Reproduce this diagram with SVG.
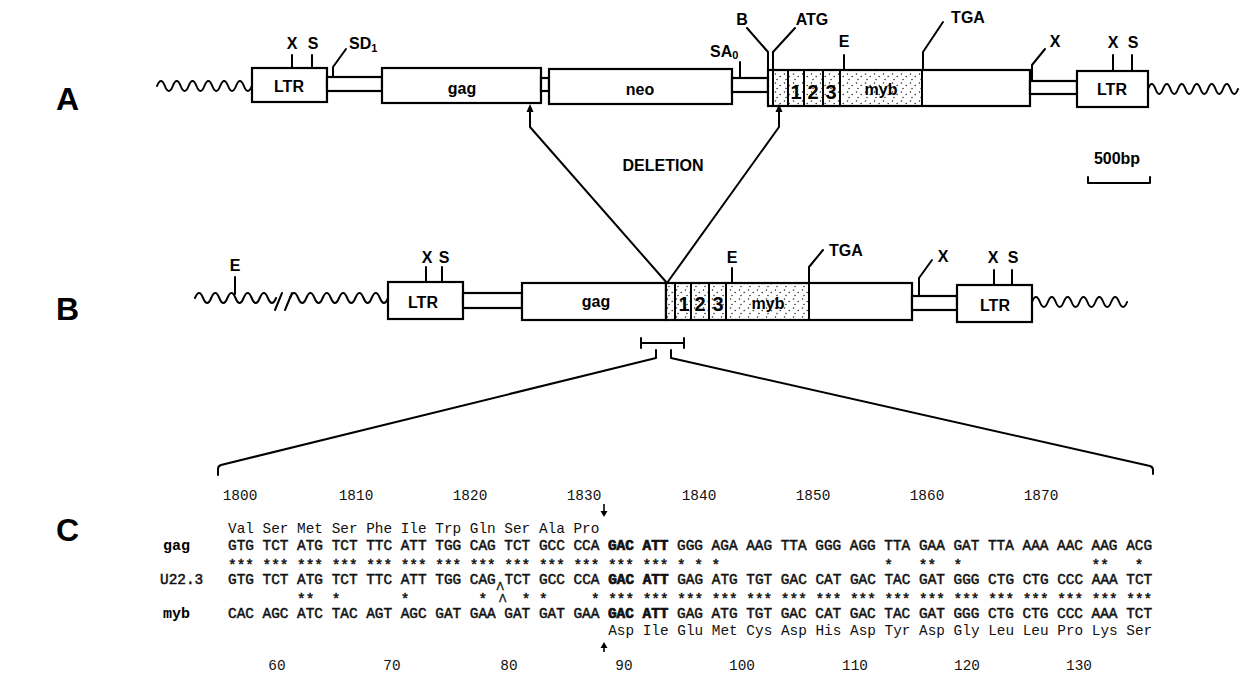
<svg xmlns="http://www.w3.org/2000/svg" width="1245" height="678" viewBox="0 0 1245 678">
<defs>
<pattern id="dots" width="9" height="9" patternUnits="userSpaceOnUse">
<circle cx="1.5" cy="2" r="0.75" fill="#222"/>
<circle cx="6.2" cy="4.4" r="0.75" fill="#222"/>
<circle cx="3" cy="7.6" r="0.75" fill="#222"/>
</pattern>
<style>
.ln{stroke:#000;stroke-width:2;fill:none;stroke-linejoin:round;stroke-linecap:round}
.bx{fill:#fff;stroke:#000;stroke-width:2.2}
.dt{fill:url(#dots);stroke:none}
.lb{font-family:"Liberation Sans",Arial,sans-serif;font-weight:bold;font-size:16px;fill:#000}
.mid{text-anchor:middle}
.big{font-family:"Liberation Sans",Arial,sans-serif;font-weight:bold;font-size:32px;fill:#000}
.dg{font-size:20px}
.seq{font-family:"Liberation Mono","Courier New",monospace;font-size:14.4px;fill:#111}
.nt{stroke:#111;stroke-width:0.5}
.b{font-weight:bold;stroke-width:0.7}
.sn{font-family:"Liberation Mono","Courier New",monospace;font-weight:bold;font-size:15px;fill:#000}
.sm{font-family:"Liberation Sans",Arial,sans-serif;font-size:11px;stroke-width:0.3}
</style>
</defs>
<rect width="1245" height="678" fill="#fff"/>

<g id="panel-labels">
<text class="big" x="56" y="110">A</text>
<text class="big" x="56" y="320">B</text>
<text class="big" x="56" y="541">C</text>
</g>

<!-- Row A -->
<g id="A-left-flank">
<path class="ln" d="M157,86 q3.95,-10 7.9,0 t7.9,0 t7.9,0 t7.9,0 t7.9,0 t7.9,0 t7.9,0 t7.9,0 t7.9,0 t7.9,0 t7.9,0 t7.9,0"/>
</g>
<g id="A-LTR-left">
<rect class="bx" x="252" y="68" width="75" height="34"/>
<text class="lb mid" x="289" y="92">LTR</text>
<line class="ln" x1="292" y1="55" x2="292" y2="68"/>
<line class="ln" x1="312" y1="55" x2="312" y2="68"/>
<text class="lb mid" x="292" y="49">X</text>
<text class="lb mid" x="313" y="49">S</text>
</g>
<g id="A-SD1">
<rect class="bx" x="327" y="77" width="55" height="14"/>
<path class="ln" d="M333,77 V67 L346,49"/>
<text class="lb" x="349" y="49">SD<tspan font-size="11" dy="3">1</tspan></text>
</g>
<g id="A-gag">
<rect class="bx" x="382" y="68" width="159" height="35"/>
<text class="lb mid" x="462" y="94">gag</text>
<rect class="bx" x="541" y="78" width="8" height="13"/>
</g>
<g id="A-neo">
<rect class="bx" x="549" y="69" width="183" height="35"/>
<text class="lb mid" x="640" y="95">neo</text>
</g>
<g id="A-SA0">
<rect class="bx" x="732" y="78" width="36" height="14"/>
<line class="ln" x1="740" y1="62" x2="740" y2="78"/>
<text class="lb" x="710" y="57">SA<tspan font-size="11" dy="2">0</tspan></text>
</g>
<g id="A-myb">
<rect class="bx" x="768" y="70" width="262" height="36"/>
<rect class="dt" x="774" y="71" width="148" height="34"/>
<line class="ln" x1="773" y1="70" x2="773" y2="106"/>
<line class="ln" x1="788" y1="70" x2="788" y2="106"/>
<line class="ln" x1="804" y1="70" x2="804" y2="106"/>
<line class="ln" x1="823" y1="70" x2="823" y2="106"/>
<line class="ln" x1="840" y1="70" x2="840" y2="106"/>
<line class="ln" x1="922" y1="70" x2="922" y2="106"/>
<text class="lb mid dg" x="796" y="99">1</text>
<text class="lb mid dg" x="813" y="99">2</text>
<text class="lb mid dg" x="831" y="99">3</text>
<text class="lb mid" x="881" y="95">myb</text>
<path class="ln" d="M747,28 L768,52 V70"/>
<text class="lb mid" x="742" y="25">B</text>
<path class="ln" d="M795,28 L773,52 V70"/>
<text class="lb mid" x="812" y="25">ATG</text>
<line class="ln" x1="844" y1="55" x2="844" y2="70"/>
<text class="lb mid" x="844" y="47">E</text>
<path class="ln" d="M943,22 L923,52 V70"/>
<text class="lb mid" x="968" y="23">TGA</text>
</g>
<g id="A-LTR-right">
<rect class="bx" x="1030" y="81" width="47" height="13"/>
<path class="ln" d="M1045,49 L1032,65 V81"/>
<text class="lb mid" x="1055" y="47">X</text>
<rect class="bx" x="1077" y="71" width="71" height="36"/>
<text class="lb mid" x="1112" y="95">LTR</text>
<line class="ln" x1="1113" y1="55" x2="1113" y2="71"/>
<line class="ln" x1="1132" y1="55" x2="1132" y2="71"/>
<text class="lb mid" x="1113" y="48">X</text>
<text class="lb mid" x="1133" y="48">S</text>
<path class="ln" d="M1148,89 q3.75,-10 7.5,0 t7.5,0 t7.5,0 t7.5,0 t7.5,0 t7.5,0 t7.5,0 t7.5,0 t7.5,0 t7.5,0 t7.5,0 t7.5,0"/>
</g>

<g id="deletion-label">
<text class="lb mid" x="663" y="171">DELETION</text>
</g>
<g id="scale-bar">
<text class="lb mid" x="1117" y="164">500bp</text>
<path class="ln" d="M1088,177 V183 H1150 V177"/>
</g>

<!-- Row B -->
<g id="B-left-flank">
<path class="ln" d="M195,298 q4.05,-10 8.1,0 t8.1,0 t8.1,0 t8.1,0 t8.1,0 t8.1,0 t8.1,0 t8.1,0 t8.1,0 t8.1,0"/>
<path class="ln" d="M290,298 q4.08,-10 8.17,0 t8.17,0 t8.17,0 t8.17,0 t8.17,0 t8.17,0 t8.17,0 t8.17,0 t8.17,0 t8.17,0 t8.17,0 t8.17,0"/>
<line class="ln" x1="275" y1="310" x2="282" y2="293"/>
<line class="ln" x1="285" y1="310" x2="292" y2="293"/>
<line class="ln" x1="235" y1="277" x2="235" y2="294"/>
<text class="lb mid" x="235" y="271">E</text>
</g>
<g id="B-LTR-left">
<rect class="bx" x="388" y="282" width="75" height="37"/>
<text class="lb mid" x="423" y="308">LTR</text>
<line class="ln" x1="426" y1="267" x2="426" y2="282"/>
<line class="ln" x1="442" y1="267" x2="442" y2="282"/>
<text class="lb mid" x="427" y="263">X</text>
<text class="lb mid" x="444" y="263">S</text>
<rect class="bx" x="463" y="293" width="59" height="15"/>
</g>
<g id="B-gag">
<rect class="bx" x="522" y="283" width="144" height="37"/>
<text class="lb mid" x="596" y="307">gag</text>
</g>
<g id="B-myb">
<rect class="bx" x="666" y="283" width="246" height="37"/>
<rect class="dt" x="667" y="284" width="142" height="35"/>
<line class="ln" x1="666" y1="283" x2="666" y2="320"/>
<line class="ln" x1="675" y1="283" x2="675" y2="320"/>
<line class="ln" x1="691" y1="283" x2="691" y2="320"/>
<line class="ln" x1="709" y1="283" x2="709" y2="320"/>
<line class="ln" x1="726" y1="283" x2="726" y2="320"/>
<line class="ln" x1="809" y1="283" x2="809" y2="320"/>
<text class="lb mid dg" x="684" y="311">1</text>
<text class="lb mid dg" x="700" y="311">2</text>
<text class="lb mid dg" x="718" y="311">3</text>
<text class="lb mid" x="768" y="309">myb</text>
<line class="ln" x1="732" y1="268" x2="732" y2="283"/>
<text class="lb mid" x="732" y="263">E</text>
<path class="ln" d="M809,283 V267 L823,250"/>
<text class="lb" x="829" y="256">TGA</text>
</g>
<g id="B-LTR-right">
<rect class="bx" x="912" y="296" width="45" height="14"/>
<path class="ln" d="M919,296 V278 L932,260"/>
<text class="lb mid" x="943" y="262">X</text>
<rect class="bx" x="957" y="285" width="75" height="37"/>
<text class="lb mid" x="995" y="311">LTR</text>
<line class="ln" x1="994" y1="270" x2="994" y2="285"/>
<line class="ln" x1="1012" y1="270" x2="1012" y2="285"/>
<text class="lb mid" x="993" y="263">X</text>
<text class="lb mid" x="1013" y="263">S</text>
<path class="ln" d="M1032,302 q3.96,-10 7.92,0 t7.92,0 t7.92,0 t7.92,0 t7.92,0 t7.92,0 t7.92,0 t7.92,0 t7.92,0 t7.92,0 t7.92,0 t7.92,0"/>
</g>

<g id="connectors">
<path class="ln" d="M530,110 V127 L667,283 L779,127 V110"/>
<polygon points="530,104 526.5,112 533.5,112" fill="#000"/>
<polygon points="779,104 775.5,112 782.5,112" fill="#000"/>
<path class="ln" d="M641,338 V348 M641,343 H684 M684,338 V348"/>
<path class="ln" d="M656,350 V358 L221,465 Q218,466 218,469 V475"/>
<path class="ln" d="M671,350 V358 L1150,466 Q1153,467 1153,470 V474"/>
<line x1="604" y1="504" x2="604" y2="512" stroke="#000" stroke-width="1.6"/>
<polygon points="600.5,511 607.5,511 604,517" fill="#000"/>
<line x1="604" y1="652" x2="604" y2="646" stroke="#000" stroke-width="1.6"/>
<polygon points="600.5,648 607.5,648 604,642" fill="#000"/>
</g>

<!-- Panel C -->
<g id="C-numbers-top" class="seq">
<text class="mid" x="240" y="500">1800</text>
<text class="mid" x="356" y="500">1810</text>
<text class="mid" x="470" y="500">1820</text>
<text class="mid" x="584" y="500">1830</text>
<text class="mid" x="699" y="500">1840</text>
<text class="mid" x="813" y="500">1850</text>
<text class="mid" x="927" y="500">1860</text>
<text class="mid" x="1041" y="500">1870</text>
</g>
<g id="C-gag">
<text class="seq" x="228" y="532.7">Val Ser Met Ser Phe Ile Trp Gln Ser Ala Pro</text>
<text class="sn" x="163" y="549.7">gag</text>
<text class="seq nt" x="228" y="549.7" xml:space="preserve">GTG TCT ATG TCT TTC ATT TGG CAG TCT GCC CCA <tspan class="b">GAC ATT</tspan> GGG AGA AAG TTA GGG AGG TTA GAA GAT TTA AAA AAC AAG ACG</text>
<text class="seq nt" x="228" y="569.6" xml:space="preserve">*** *** *** *** *** *** *** *** *** *** *** *** *** * * *                   *   **  *               **   *</text>
</g>
<g id="C-U22">
<text class="seq nt" x="160" y="583.7">U22.3</text>
<text class="seq nt" x="228" y="583.7" xml:space="preserve">GTG TCT ATG TCT TTC ATT TGG CAG<tspan class="sm" x="496.5" dy="6">Λ</tspan><tspan x="504.5" dy="-6">TCT GCC CCA </tspan><tspan class="b">GAC ATT</tspan> GAG ATG TGT GAC CAT GAC TAC GAT GGG CTG CTG CCC AAA TCT</text>
<text class="seq nt" x="228" y="603.6" xml:space="preserve">        **  *       *        * <tspan class="sm" x="499" dy="-2">Λ</tspan><tspan x="521.8" dy="2">* *     * *** *** *** *** *** *** *** *** *** *** *** *** *** *** *** ***</tspan></text>
</g>
<g id="C-myb">
<text class="sn" x="163" y="617.7">myb</text>
<text class="seq nt" x="228" y="617.7" xml:space="preserve">CAC AGC ATC TAC AGT AGC GAT GAA GAT GAT GAA <tspan class="b">GAC ATT</tspan> GAG ATG TGT GAC CAT GAC TAC GAT GGG CTG CTG CCC AAA TCT</text>
<text class="seq" x="608.2" y="634.7">Asp Ile Glu Met Cys Asp His Asp Tyr Asp Gly Leu Leu Pro Lys Ser</text>
</g>
<g id="C-numbers-bottom" class="seq">
<text class="mid" x="277" y="670">60</text>
<text class="mid" x="392" y="670">70</text>
<text class="mid" x="509" y="670">80</text>
<text class="mid" x="624" y="670">90</text>
<text class="mid" x="742" y="670">100</text>
<text class="mid" x="855" y="670">110</text>
<text class="mid" x="967" y="670">120</text>
<text class="mid" x="1079" y="670">130</text>
</g>
</svg>
